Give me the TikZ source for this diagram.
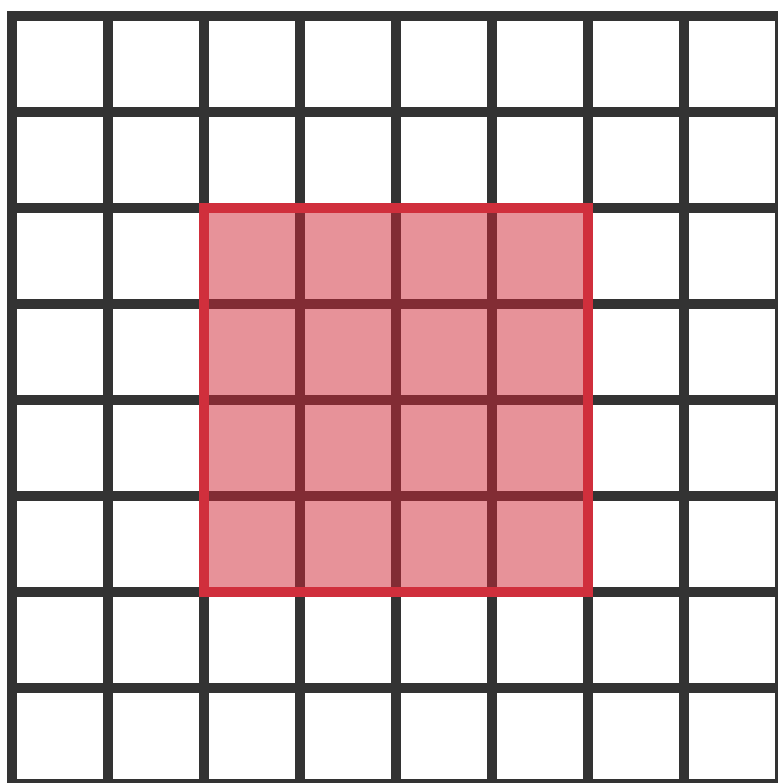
\documentclass[tikz,border=0pt]{standalone}
\definecolor{gridline}{HTML}{333333}
\definecolor{hotfill}{HTML}{D12735}
\definecolor{hotborder}{HTML}{D02F3C}
\tikzset{
  gridlines/.style={draw=gridline, line width=10pt},
  hotregion/.style={fill=hotfill, fill opacity=0.5},
  hotedge/.style={draw=hotborder, line width=10pt, line join=miter}
}
\begin{document}
\begin{tikzpicture}[x=1pt,y=-1pt]
  \useasboundingbox (0,0) rectangle (777,783);
  \fill[white] (0,0) rectangle (777,783);
  \foreach \k in {1,...,7} {
    \draw[gridlines] ({12+96*\k},16) -- ({12+96*\k},784);
    \draw[gridlines] (12,{16+96*\k}) -- (780,{16+96*\k});
  }
  \draw[gridlines, line join=miter] (12,16) rectangle (780,784);
  \fill[hotregion] (204,208) rectangle (588,592);
  \draw[hotedge] (204,208) rectangle (588,592);
\end{tikzpicture}
\end{document}
